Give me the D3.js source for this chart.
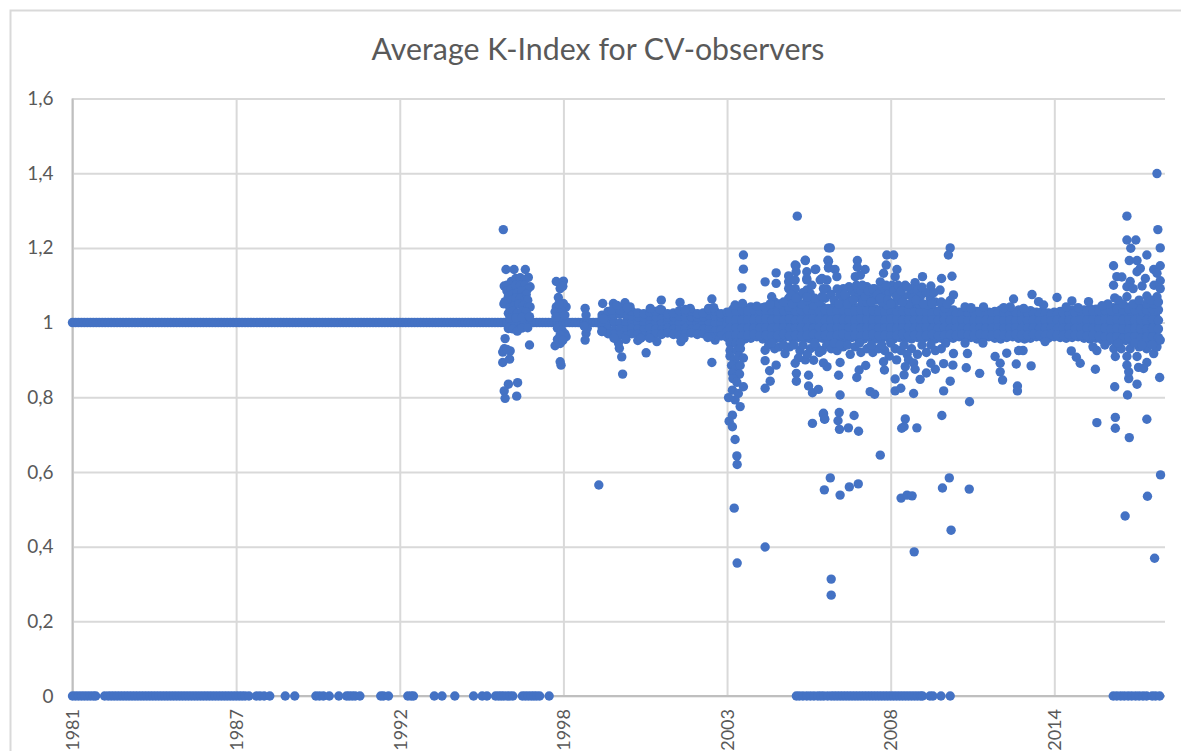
<!DOCTYPE html>
<html>
<head>
<meta charset="utf-8">
<script src="https://cdn.jsdelivr.net/npm/d3@7"></script>
<style>
html, body { margin: 0; padding: 0; background: #fff; overflow: hidden; }
text { font-family: Lato, "Open Sans", sans-serif; fill: #595959; }
</style>
</head>
<body>
<div id="chart"></div>
<script>
var chartTitle = "Average K-Index for CV-observers";
var yTicks = [0, 0.2, 0.4, 0.6, 0.8, 1, 1.2, 1.4, 1.6];
var yLabels = ["0", "0,2", "0,4", "0,6", "0,8", "1", "1,2", "1,4", "1,6"];
var xTicks = [1981, 1986.5, 1992, 1997.5, 2003, 2008.5, 2014];
var xLabels = ["1981", "1987", "1992", "1998", "2003", "2008", "2014"];

// observers with a k-index of exactly 0
var zeroYears = [1981, 1981.1, 1981.2, 1981.3, 1981.4, 1981.5, 1981.6, 1981.7, 1981.78, 1982.08, 1982.2, 1982.3, 1982.4, 1982.5, 1982.6, 1982.7, 1982.8, 1982.9, 1983, 1983.1, 1983.2, 1983.3, 1983.4, 1983.5, 1983.6, 1983.7, 1983.8, 1983.9, 1984, 1984.1, 1984.2, 1984.3, 1984.4, 1984.5, 1984.6, 1984.7, 1984.8, 1984.9, 1985, 1985.1, 1985.2, 1985.3, 1985.4, 1985.5, 1985.6, 1985.7, 1985.8, 1985.9, 1986, 1986.1, 1986.2, 1986.3, 1986.4, 1986.5, 1986.6, 1986.7, 1986.8, 1986.93, 1987.18, 1987.3, 1987.44, 1987.63, 1988.15, 1988.47, 1989.18, 1989.3, 1989.43, 1989.63, 1989.95, 1990.21, 1990.3, 1990.4, 1990.5, 1990.66, 1991.36, 1991.45, 1991.62, 1992.27, 1992.38, 1992.46, 1993.16, 1993.42, 1993.85, 1994.48, 1994.77, 1994.93, 1995.22, 1995.32, 1995.41, 1995.5, 1995.61, 1995.7, 1995.8, 1996.12, 1996.22, 1996.32, 1996.42, 1996.51, 1996.6, 1996.7, 1997.02,
  2005.33, 2005.43, 2005.55, 2005.68, 2005.8, 2005.92, 2006.05, 2006.15, 2006.25, 2006.38, 2006.5, 2006.6, 2006.7, 2006.8, 2006.9, 2007, 2007.1, 2007.2, 2007.3, 2007.4, 2007.5, 2007.6, 2007.7, 2007.8, 2007.9, 2008, 2008.1, 2008.2, 2008.3, 2008.4, 2008.5, 2008.6, 2008.7, 2008.8, 2008.9, 2009, 2009.1, 2009.2, 2009.3, 2009.4, 2009.5, 2009.57, 2009.82, 2009.92, 2010.19, 2010.5, 2015.98, 2016.1, 2016.23, 2016.35, 2016.48, 2016.6, 2016.73, 2016.85, 2016.98, 2017.1, 2017.29, 2017.4, 2017.54];

// observers with a k-index of exactly 1
var oneYears = [1981, 1981.1, 1981.2, 1981.3, 1981.4, 1981.5, 1981.6, 1981.7, 1981.8, 1981.9, 1982, 1982.1, 1982.2, 1982.3, 1982.4, 1982.5, 1982.6, 1982.7, 1982.8, 1982.9, 1983, 1983.1, 1983.2, 1983.3, 1983.4, 1983.5, 1983.6, 1983.7, 1983.8, 1983.9, 1984, 1984.1, 1984.2, 1984.3, 1984.4, 1984.5, 1984.6, 1984.7, 1984.8, 1984.9, 1985, 1985.1, 1985.2, 1985.3, 1985.4, 1985.5, 1985.6, 1985.7, 1985.8, 1985.9, 1986, 1986.1, 1986.2, 1986.3, 1986.4, 1986.5, 1986.6, 1986.7, 1986.8, 1986.9, 1987, 1987.1, 1987.2, 1987.3, 1987.4, 1987.5, 1987.6, 1987.7, 1987.8, 1987.9, 1988, 1988.1, 1988.2, 1988.3, 1988.4, 1988.5, 1988.6, 1988.7, 1988.8, 1988.9, 1989, 1989.1, 1989.2, 1989.3, 1989.4, 1989.5, 1989.6, 1989.7, 1989.8, 1989.9, 1990, 1990.1, 1990.2, 1990.3, 1990.4, 1990.5, 1990.6, 1990.7, 1990.8, 1990.9, 1991, 1991.1, 1991.2, 1991.3, 1991.4, 1991.5, 1991.6, 1991.7, 1991.8, 1991.9, 1992, 1992.1, 1992.2, 1992.3, 1992.4, 1992.5, 1992.6, 1992.7, 1992.8, 1992.9, 1993, 1993.1, 1993.2, 1993.3, 1993.4, 1993.5, 1993.6, 1993.7, 1993.8, 1993.9, 1994, 1994.1, 1994.2, 1994.3, 1994.4, 1994.5, 1994.6, 1994.7, 1994.8, 1994.9, 1995, 1995.1, 1995.2, 1995.3, 1995.4, 1995.5, 1995.6, 1995.7, 1995.8, 1995.9, 1996, 1996.1, 1996.2, 1996.3, 1996.4, 1996.5, 1996.6, 1996.7, 1996.8, 1996.9, 1997, 1997.1, 1997.2, 1997.3, 1997.4, 1997.5, 1997.6, 1997.7, 1997.8, 1997.9, 1998, 1998.1, 1998.2, 1998.3, 1998.4, 1998.5, 1998.6, 1998.7];

// the dense band around 1, read as rows across the years
var bandYears = [1998.8, 1999, 1999.2, 1999.4, 1999.6, 1999.8, 2000, 2000.2, 2000.4, 2000.6, 2000.8, 2001, 2001.2, 2001.4, 2001.6, 2001.8, 2002, 2002.2, 2002.4, 2002.6, 2002.8, 2003, 2003.2, 2003.4, 2003.6, 2003.8, 2004, 2004.2, 2004.4, 2004.6, 2004.8, 2005, 2005.2, 2005.4, 2005.6, 2005.8, 2006, 2006.2, 2006.4, 2006.6, 2006.8, 2007, 2007.2, 2007.4, 2007.6, 2007.8, 2008, 2008.2, 2008.4, 2008.6, 2008.8, 2009, 2009.2, 2009.4, 2009.6, 2009.8, 2010, 2010.2, 2010.4, 2010.6, 2010.8, 2011, 2011.2, 2011.4, 2011.6, 2011.8, 2012, 2012.2, 2012.4, 2012.6, 2012.8, 2013, 2013.2, 2013.4, 2013.6, 2013.8, 2014, 2014.2, 2014.4, 2014.6, 2014.8, 2015, 2015.2, 2015.4, 2015.6, 2015.8, 2016, 2016.2, 2016.4, 2016.6, 2016.8, 2017, 2017.2, 2017.4];
var bandMid = [1, 1, 1.002, 0.998, 1, 1.001, 0.998, 1, 0.999, 1.001, 1, 0.998, 1, 1.002, 0.999, 1, 0.998, 0.999, 1, 0.997, 0.998, 0.996, 0.995, 0.996, 0.994, 0.996, 0.995, 0.993, 0.996, 0.994, 0.995, 0.997, 0.993, 0.995, 0.994, 0.996, 0.993, 0.995, 0.997, 0.994, 0.996, 0.993, 0.995, 0.994, 0.997, 0.995, 0.993, 0.996, 0.994, 0.996, 0.995, 0.993, 0.996, 0.994, 0.997, 0.995, 0.994, 0.996, 0.993, 0.995, 0.996, 0.994, 0.995, 0.997, 0.994, 0.996, 0.995, 0.994, 0.996, 0.993, 0.995, 0.996, 0.994, 0.995, 0.997, 0.994, 0.996, 0.995, 0.994, 0.996, 0.995, 0.993, 0.996, 0.994, 0.992, 0.995, 0.993, 0.994, 0.992, 0.995, 0.993, 0.994, 0.992, 0.995];
var bandHi = [1.012, 1.018, 1.02, 1.022, 1.02, 1.018, 1.016, 1.014, 1.018, 1.016, 1.02, 1.014, 1.016, 1.018, 1.014, 1.016, 1.014, 1.016, 1.02, 1.018, 1.014, 1.016, 1.018, 1.016, 1.02, 1.018, 1.022, 1.02, 1.022, 1.018, 1.02, 1.022, 1.02, 1.018, 1.022, 1.02, 1.018, 1.022, 1.02, 1.022, 1.018, 1.02, 1.022, 1.02, 1.018, 1.022, 1.02, 1.018, 1.02, 1.022, 1.018, 1.02, 1.022, 1.018, 1.02, 1.016, 1.018, 1.02, 1.016, 1.018, 1.016, 1.014, 1.016, 1.018, 1.014, 1.016, 1.018, 1.014, 1.016, 1.014, 1.018, 1.016, 1.014, 1.016, 1.014, 1.016, 1.014, 1.016, 1.014, 1.018, 1.016, 1.018, 1.02, 1.018, 1.022, 1.02, 1.018, 1.022, 1.02, 1.018, 1.022, 1.02, 1.018, 1.02];
var bandLo = [0.988, 0.982, 0.98, 0.982, 0.98, 0.984, 0.982, 0.98, 0.984, 0.982, 0.98, 0.984, 0.982, 0.98, 0.984, 0.982, 0.984, 0.982, 0.98, 0.978, 0.98, 0.976, 0.976, 0.978, 0.974, 0.976, 0.978, 0.974, 0.976, 0.974, 0.978, 0.976, 0.974, 0.976, 0.978, 0.974, 0.976, 0.974, 0.978, 0.976, 0.974, 0.976, 0.978, 0.974, 0.976, 0.978, 0.974, 0.976, 0.978, 0.974, 0.976, 0.978, 0.974, 0.976, 0.978, 0.976, 0.974, 0.976, 0.978, 0.976, 0.978, 0.976, 0.978, 0.974, 0.976, 0.978, 0.976, 0.974, 0.976, 0.978, 0.976, 0.974, 0.976, 0.978, 0.976, 0.974, 0.976, 0.978, 0.976, 0.974, 0.976, 0.978, 0.974, 0.976, 0.972, 0.974, 0.976, 0.972, 0.974, 0.976, 0.972, 0.974, 0.976, 0.972];
var bandTop = [1.02, 1.03, 1.034, 1.036, 1.034, 1.03, 1.026, 1.024, 1.028, 1.03, 1.034, 1.024, 1.026, 1.032, 1.028, 1.03, 1.024, 1.026, 1.034, 1.03, 1.024, 1.028, 1.036, 1.034, 1.038, 1.042, 1.036, 1.04, 1.044, 1.038, 1.04, 1.044, 1.042, 1.036, 1.04, 1.044, 1.036, 1.042, 1.038, 1.044, 1.04, 1.036, 1.044, 1.04, 1.038, 1.042, 1.036, 1.034, 1.03, 1.036, 1.034, 1.038, 1.042, 1.036, 1.04, 1.032, 1.03, 1.036, 1.03, 1.034, 1.028, 1.03, 1.034, 1.03, 1.032, 1.028, 1.03, 1.034, 1.03, 1.028, 1.034, 1.03, 1.032, 1.028, 1.03, 1.026, 1.028, 1.03, 1.032, 1.034, 1.03, 1.034, 1.038, 1.036, 1.04, 1.044, 1.04, 1.046, 1.042, 1.044, 1.048, 1.04, 1.044, 1.046];
var bandBottom = [0.976, 0.97, 0.968, 0.966, 0.964, 0.97, 0.968, 0.964, 0.966, 0.97, 0.968, 0.972, 0.968, 0.966, 0.97, 0.972, 0.968, 0.97, 0.966, 0.962, 0.964, 0.96, 0.958, 0.96, 0.956, 0.958, 0.962, 0.956, 0.96, 0.956, 0.958, 0.962, 0.956, 0.96, 0.958, 0.956, 0.96, 0.958, 0.956, 0.96, 0.958, 0.956, 0.96, 0.958, 0.956, 0.96, 0.956, 0.958, 0.96, 0.956, 0.96, 0.958, 0.956, 0.96, 0.958, 0.96, 0.956, 0.958, 0.96, 0.958, 0.962, 0.958, 0.96, 0.956, 0.958, 0.962, 0.958, 0.956, 0.96, 0.962, 0.958, 0.956, 0.958, 0.962, 0.96, 0.958, 0.962, 0.96, 0.958, 0.96, 0.962, 0.958, 0.956, 0.958, 0.954, 0.95, 0.952, 0.948, 0.952, 0.95, 0.946, 0.952, 0.95, 0.954];

// second set of rows, between the columns above, from 2003 on
var gapYears = [2003.1, 2003.3, 2003.5, 2003.7, 2003.9, 2004.1, 2004.3, 2004.5, 2004.7, 2004.9, 2005.1, 2005.3, 2005.5, 2005.7, 2005.9, 2006.1, 2006.3, 2006.5, 2006.7, 2006.9, 2007.1, 2007.3, 2007.5, 2007.7, 2007.9, 2008.1, 2008.3, 2008.5, 2008.7, 2008.9, 2009.1, 2009.3, 2009.5, 2009.7, 2009.9, 2010.1, 2010.3, 2010.5, 2010.7, 2010.9, 2011.1, 2011.3, 2011.5, 2011.7, 2011.9, 2012.1, 2012.3, 2012.5, 2012.7, 2012.9, 2013.1, 2013.3, 2013.5, 2013.7, 2013.9, 2014.1, 2014.3, 2014.5, 2014.7, 2014.9, 2015.1, 2015.3, 2015.5, 2015.7, 2015.9, 2016.1, 2016.3, 2016.5, 2016.7, 2016.9, 2017.1, 2017.3, 2017.5];
var gapHi = [1.028, 1.03, 1.032, 1.03, 1.034, 1.032, 1.03, 1.034, 1.03, 1.032, 1.034, 1.03, 1.032, 1.034, 1.03, 1.032, 1.034, 1.03, 1.032, 1.034, 1.03, 1.032, 1.034, 1.03, 1.032, 1.03, 1.028, 1.03, 1.026, 1.03, 1.032, 1.028, 1.03, 1.028, 1.026, 1.028, 1.026, 1.028, 1.024, 1.026, 1.024, 1.028, 1.026, 1.024, 1.026, 1.024, 1.028, 1.024, 1.026, 1.024, 1.026, 1.024, 1.022, 1.024, 1.022, 1.024, 1.026, 1.024, 1.026, 1.028, 1.03, 1.03, 1.032, 1.034, 1.032, 1.036, 1.034, 1.036, 1.034, 1.036, 1.034, 1.036, 1.034];
var gapMid = [1.006, 1.008, 1.006, 1.008, 1.006, 1.008, 1.01, 1.006, 1.008, 1.006, 1.01, 1.006, 1.008, 1.006, 1.01, 1.008, 1.006, 1.008, 1.01, 1.006, 1.008, 1.006, 1.01, 1.008, 1.006, 1.008, 1.006, 1.01, 1.008, 1.006, 1.008, 1.006, 1.008, 1.006, 1.008, 1.006, 1.008, 1.006, 1.005, 1.006, 1.005, 1.006, 1.005, 1.007, 1.005, 1.006, 1.005, 1.007, 1.005, 1.006, 1.005, 1.007, 1.005, 1.006, 1.005, 1.007, 1.005, 1.006, 1.005, 1.007, 1.006, 1.008, 1.006, 1.008, 1.006, 1.008, 1.006, 1.008, 1.006, 1.008, 1.006, 1.008, 1.006];
var gapLow = [0.985, 0.986, 0.984, 0.986, 0.984, 0.985, 0.986, 0.984, 0.985, 0.986, 0.984, 0.985, 0.986, 0.984, 0.985, 0.986, 0.984, 0.985, 0.986, 0.984, 0.985, 0.986, 0.984, 0.985, 0.986, 0.984, 0.985, 0.986, 0.984, 0.985, 0.986, 0.984, 0.985, 0.986, 0.984, 0.985, 0.986, 0.984, 0.985, 0.986, 0.984, 0.985, 0.986, 0.984, 0.985, 0.986, 0.984, 0.985, 0.986, 0.984, 0.985, 0.986, 0.984, 0.985, 0.986, 0.984, 0.985, 0.986, 0.984, 0.985, 0.986, 0.984, 0.983, 0.985, 0.982, 0.984, 0.983, 0.982, 0.984, 0.983, 0.982, 0.984, 0.983];
var gapBottom = [0.965, 0.966, 0.964, 0.966, 0.968, 0.965, 0.966, 0.964, 0.966, 0.968, 0.965, 0.966, 0.964, 0.966, 0.968, 0.965, 0.966, 0.964, 0.966, 0.968, 0.965, 0.966, 0.964, 0.966, 0.968, 0.965, 0.966, 0.964, 0.966, 0.968, 0.965, 0.966, 0.964, 0.966, 0.968, 0.965, 0.966, 0.968, 0.966, 0.968, 0.967, 0.966, 0.968, 0.967, 0.966, 0.968, 0.967, 0.966, 0.968, 0.967, 0.966, 0.968, 0.967, 0.966, 0.968, 0.967, 0.966, 0.968, 0.967, 0.966, 0.965, 0.966, 0.964, 0.962, 0.96, 0.962, 0.958, 0.96, 0.962, 0.958, 0.96, 0.962, 0.96];

// scatter, era by era
var obs1995 = [[1995.48, 1.249], [1995.57, 1.142], [1995.84, 1.142], [1996.22, 1.142], [1995.51, 1.098], [1996.32, 1.121], [1996.38, 1.096], [1995.6, 1.1], [1995.75, 1.11], [1995.9, 1.118], [1996.05, 1.12], [1996.2, 1.115], [1995.6, 1.085], [1995.75, 1.09], [1995.9, 1.1], [1996.05, 1.1], [1996.2, 1.1], [1996.3, 1.09], [1995.65, 1.07], [1995.8, 1.075], [1995.95, 1.08], [1996.1, 1.085], [1996.25, 1.075], [1995.6, 1.055], [1995.75, 1.06], [1995.9, 1.065], [1996.05, 1.065], [1996.2, 1.06], [1996.3, 1.06], [1995.54, 1.056], [1995.5, 1.05], [1995.7, 1.04], [1995.85, 1.045], [1996, 1.05], [1996.15, 1.045], [1996.3, 1.04], [1996.38, 1.042], [1995.65, 1.025], [1995.8, 1.03], [1995.95, 1.025], [1996.1, 1.03], [1996.25, 1.028], [1995.7, 1.012], [1995.9, 1.012], [1996.1, 1.014], [1996.36, 1.016], [1995.65, 0.984], [1995.8, 0.983], [1995.95, 0.977], [1996.1, 0.985], [1996.3, 0.986], [1995.54, 0.957], [1995.51, 0.93], [1995.46, 0.921], [1995.71, 0.924], [1995.46, 0.893], [1995.69, 0.902], [1995.6, 0.928], [1995.65, 0.835], [1995.96, 0.839], [1995.51, 0.817], [1995.54, 0.797], [1995.93, 0.803], [1996.36, 0.94],
  [1997.26, 1.11], [1997.5, 1.111], [1997.39, 1.091], [1997.48, 1.097], [1997.33, 1.067], [1997.59, 1.042], [1997.26, 1.042], [1997.22, 1.029], [1997.5, 1.051], [1997.44, 1.03], [1997.35, 1.05], [1997.4, 1.015], [1997.25, 1.015], [1997.55, 1.02], [1997.3, 0.985], [1997.45, 0.98], [1997.55, 0.97], [1997.59, 0.962], [1997.22, 0.938], [1997.39, 0.944], [1997.39, 0.967], [1997.3, 0.955], [1997.48, 0.952], [1997.39, 0.895], [1997.42, 0.886],
  [1998.23, 1.038], [1998.26, 1.02], [1998.26, 0.971], [1998.23, 0.953], [1998.3, 0.985], [1998.2, 0.99], [1998.82, 1.051], [1998.85, 1.01], [1998.79, 0.976], [1998.69, 0.565]];

var obs1999 = [[1999.18, 1.051], [1999.25, 1.042], [1999.57, 1.053], [1999.74, 1.042], [1999.13, 1.033], [1999.4, 1.033], [1999.3, 1.046], [1999.65, 1.04], [1999.38, 0.931], [1999.46, 0.908], [1999.49, 0.862], [1999.35, 0.945], [1999.6, 0.955], [1999.2, 0.958], [2000.28, 0.919], [2000, 0.952], [2000.1, 0.958], [2000.42, 1.038], [2000.79, 1.06], [2000.75, 1.035], [2001.42, 1.054], [2001.76, 1.038], [2001.6, 1.035], [2000.64, 0.949], [2000.4, 0.958], [2001.45, 0.949], [2001.55, 0.958], [2002.49, 1.063], [2002.49, 0.893], [2002.38, 1.038], [2002.55, 1.04], [2002.6, 0.953], [2002.45, 0.962], [2002.35, 0.96]];

var obs2003 = [[2003.27, 1.047], [2003.52, 1.051], [2003.5, 1.093], [2003.55, 1.143], [2003.55, 1.181], [2003.1, 0.945], [2003.3, 0.945], [2003.45, 0.945], [2003.1, 0.925], [2003.33, 0.925], [2003.45, 0.93], [2003.1, 0.91], [2003.25, 0.9], [2003.4, 0.91], [2003.55, 0.905], [2003.15, 0.885], [2003.28, 0.875], [2003.44, 0.885], [2003.18, 0.865], [2003.3, 0.855], [2003.42, 0.862], [2003.2, 0.85], [2003.33, 0.84], [2003.55, 0.828], [2003.18, 0.819], [2003.38, 0.81], [2003.05, 0.799], [2003.27, 0.793], [2003.44, 0.775], [2003.18, 0.752], [2003.07, 0.736], [2003.18, 0.721], [2003.27, 0.687], [2003.33, 0.643], [2003.34, 0.62], [2003.24, 0.503], [2003.34, 0.356], [2004.28, 0.399]];

var obs2004 = [[2004, 1.044], [2004.5, 1.069], [2004.28, 1.109], [2004.65, 1.133], [2004.65, 1.105], [2005.07, 1.125], [2005.07, 1.109], [2005.07, 1.091], [2005.29, 1.154], [2005.32, 1.136], [2005.29, 1.114], [2005.29, 1.091], [2005.63, 1.166], [2005.68, 1.136], [2005.68, 1.114], [2005.68, 1.087], [2005.98, 1.143], [2006.13, 1.114], [2006.41, 1.2], [2006.41, 1.164], [2006.41, 1.146], [2006.36, 1.114], [2006.3, 1.065], [2005.79, 1.078], [2005.07, 1.065], [2005.29, 1.063], [2004.28, 1.042], [2005.07, 1.042], [2005.9, 1.047], [2004.6, 1.055], [2004.75, 1.05], [2004.45, 1.05], [2005.5, 1.05], [2005.7, 1.06], [2006.1, 1.055], [2004.9, 1.055], [2005.2, 1.05], [2005.4, 1.07], [2005.55, 1.08], [2005.85, 1.1], [2005.95, 1.065], [2006.2, 1.07], [2006.35, 1.09], [2006.5, 1.075], [2005.15, 1.075],
  [2004.28, 0.926], [2004.28, 0.898], [2004.43, 0.871], [2004.65, 0.886], [2004.45, 0.843], [2004.28, 0.824], [2004.95, 0.917], [2005.29, 0.891], [2005.63, 0.9], [2005.91, 0.899], [2005.33, 0.864], [2005.33, 0.843], [2005.74, 0.859], [2005.74, 0.83], [2005.87, 0.812], [2006.07, 0.821], [2006.24, 0.892], [2006.36, 0.882], [2006.24, 0.757], [2006.28, 0.742], [2005.87, 0.73], [2004.4, 0.94], [2004.6, 0.93], [2004.75, 0.935], [2005.1, 0.935], [2005.45, 0.925], [2005.55, 0.94], [2005.8, 0.93], [2006, 0.935], [2006.2, 0.925], [2004.5, 0.945], [2004.9, 0.94], [2005.25, 0.94], [2005.7, 0.915], [2006.1, 0.92], [2006.35, 0.94], [2005.95, 0.945], [2005.4, 0.905],
  [2005.36, 1.285], [2006.47, 1.2], [2006.39, 1.167], [2006.41, 1.148], [2005.63, 1.167], [2005.32, 1.152], [2005.96, 1.142], [2006.63, 1.142], [2006.69, 1.123], [2005.68, 1.118], [2006.19, 1.118], [2006.24, 1.091], [2005.32, 1.065], [2005.68, 1.068]];

var obs2006 = [[2007.38, 1.166], [2007.38, 1.148], [2007.64, 1.142], [2007.31, 1.123], [2007.48, 1.127], [2008.37, 1.181], [2008.6, 1.181], [2008.35, 1.154], [2008.71, 1.142], [2008.26, 1.132], [2008.65, 1.123], [2008.15, 1.109], [2009.57, 1.123], [2009.32, 1.107], [2010.5, 1.2], [2010.44, 1.181], [2010.56, 1.124], [2010.21, 1.118], [2010.16, 1.087], [2010.61, 1.074], [2009.85, 1.098], [2008.99, 1.1], [2007.1, 1.096], [2006.91, 1.091], [2007.7, 1.096], [2007.95, 1.091], [2007.03, 1.065], [2007.48, 1.065], [2007.95, 1.075], [2009.83, 1.065], [2009.72, 1.047], [2009.15, 1.074], [2008.93, 1.07], [2008.65, 1.054], [2008.37, 1.047], [2010.5, 1.059], [2010.33, 1.038],
  [2006.7, 1.09], [2006.8, 1.075], [2006.9, 1.06], [2007.2, 1.085], [2007.3, 1.075], [2007.4, 1.09], [2007.6, 1.08], [2007.8, 1.07], [2008, 1.06], [2008.1, 1.085], [2008.25, 1.09], [2008.3, 1.07], [2008.45, 1.08], [2008.55, 1.1], [2009.2, 1.09], [2009.4, 1.085], [2009.5, 1.07], [2009.7, 1.08], [2009.95, 1.08], [2010, 1.055], [2006.6, 1.06], [2007.15, 1.055], [2007.55, 1.055], [2007.7, 1.055], [2008.2, 1.055], [2009.1, 1.05], [2009.45, 1.05],
  [2006.75, 1.05], [2006.95, 1.075], [2007.05, 1.05], [2007.25, 1.06], [2007.35, 1.1], [2007.5, 1.085], [2007.55, 1.1], [2007.65, 1.07], [2007.75, 1.085], [2007.85, 1.055], [2007.9, 1.09], [2008.05, 1.075], [2008.15, 1.065], [2008.35, 1.1], [2008.4, 1.06], [2008.5, 1.05], [2008.6, 1.085], [2008.7, 1.07], [2008.75, 1.1], [2008.85, 1.085], [2008.9, 1.055], [2009.05, 1.095], [2009.25, 1.065], [2009.35, 1.06], [2009.55, 1.095], [2009.6, 1.05], [2009.9, 1.05], [2010.2, 1.055], [2010.4, 1.05],
  [2006.8, 0.893], [2006.75, 0.859], [2006.8, 0.806], [2007.14, 0.915], [2007.44, 0.873], [2007.36, 0.853], [2007.66, 0.885], [2007.81, 0.815], [2007.96, 0.808], [2006.24, 0.754], [2006.28, 0.741], [2006.77, 0.759], [2006.73, 0.737], [2006.78, 0.714], [2007.08, 0.718], [2007.27, 0.751], [2007.42, 0.709], [2008.15, 0.645],
  [2006.5, 0.93], [2006.7, 0.925], [2006.9, 0.935], [2007.5, 0.92], [2007.7, 0.93], [2007.9, 0.92], [2008.1, 0.93], [2008.3, 0.925], [2008.65, 0.93], [2008.85, 0.925], [2009.2, 0.93], [2009.4, 0.915], [2009.7, 0.92], [2010, 0.925], [2010.2, 0.93], [2006.6, 0.945], [2006.8, 0.94], [2007.05, 0.94], [2007.3, 0.935], [2007.45, 0.945], [2007.85, 0.94], [2008.2, 0.94], [2008.5, 0.945], [2008.95, 0.94], [2009.05, 0.915], [2009.55, 0.94], [2009.85, 0.94], [2010.35, 0.945], [2008.45, 0.91], [2009.1, 0.9],
  [2008.26, 0.895], [2008.29, 0.873], [2008.65, 0.849], [2008.65, 0.817], [2008.84, 0.824], [2008.7, 0.9], [2008.99, 0.882], [2008.95, 0.86], [2009.27, 0.892], [2009.32, 0.875], [2009.49, 0.848], [2009.7, 0.865], [2010, 0.875], [2009.85, 0.891], [2009.27, 0.81], [2010.28, 0.817], [2010.5, 0.843], [2008.99, 0.742], [2008.95, 0.721], [2008.87, 0.717], [2009.38, 0.718], [2010.22, 0.751], [2010.28, 0.89], [2010.59, 0.886], [2010.61, 0.917],
  [2006.47, 0.584], [2006.27, 0.552], [2006.8, 0.538], [2007.11, 0.56], [2007.41, 0.568], [2006.5, 0.313], [2006.5, 0.27], [2008.85, 0.53], [2009.05, 0.538], [2009.22, 0.536], [2009.29, 0.386], [2010.24, 0.557], [2010.47, 0.584], [2010.53, 0.444], [2011.14, 0.554]];

var obs2011 = [[2012.63, 1.063], [2013.25, 1.075], [2014.09, 1.067], [2014.59, 1.058], [2015.15, 1.056], [2013.47, 1.056], [2013.64, 1.047], [2011.62, 1.042], [2011, 1.042], [2012.52, 1.042], [2012.97, 1.038], [2012.3, 1.04], [2011.2, 1.04], [2014.8, 1.04], [2014.4, 1.042],
  [2011.04, 0.879], [2011.08, 0.917], [2011.49, 0.864], [2011.15, 0.788], [2012.01, 0.909], [2012.18, 0.891], [2012.18, 0.868], [2012.26, 0.846], [2012.72, 0.889], [2013.22, 0.884], [2012.76, 0.83], [2012.76, 0.817], [2012.4, 0.918], [2012.95, 0.925], [2012.8, 0.925], [2013.69, 0.949], [2014.57, 0.924], [2014.74, 0.907], [2014.87, 0.891], [2015.38, 0.875], [2015.43, 0.925], [2015.3, 0.935], [2011.6, 0.945], [2011, 0.945]];

var obs2015 = [[2016.44, 1.285], [2016.44, 1.221], [2016.74, 1.221], [2016.57, 1.199], [2017.45, 1.399], [2017.48, 1.249], [2017.56, 1.2], [2017.11, 1.181], [2016.52, 1.166], [2016.78, 1.166], [2015.99, 1.152], [2016.89, 1.145], [2016.78, 1.136], [2017.34, 1.142], [2017.56, 1.152], [2017.45, 1.132], [2016.1, 1.123], [2016.27, 1.122], [2017.06, 1.118], [2017.56, 1.112], [2015.99, 1.1], [2016.55, 1.11], [2016.44, 1.096], [2016.65, 1.091], [2016.95, 1.098], [2017.35, 1.1], [2017.56, 1.091], [2016.03, 1.066], [2016.44, 1.069], [2017.11, 1.071], [2017.45, 1.069], [2016.3, 1.05], [2016.65, 1.05], [2017.11, 1.05], [2015.8, 1.05], [2015.6, 1.045], [2017.35, 1.05], [2016.15, 1.06], [2016.85, 1.06], [2017.25, 1.06], [2017.5, 1.055],
  [2016.03, 0.828], [2016.46, 0.806], [2016.78, 0.835], [2017.54, 0.853], [2015.43, 0.732], [2016.05, 0.746], [2016.05, 0.717], [2016.52, 0.692], [2017.11, 0.741], [2016.5, 0.85], [2016.5, 0.868], [2016.44, 0.886], [2016.83, 0.88], [2017.11, 0.893], [2017, 0.877], [2016.05, 0.909], [2016.44, 0.909], [2016.78, 0.909], [2017.34, 0.917], [2017.45, 0.935], [2017.56, 0.953], [2016, 0.93], [2016.25, 0.93], [2016.55, 0.93], [2016.85, 0.935], [2017.1, 0.93], [2015.7, 0.94], [2016.15, 0.945], [2016.7, 0.945], [2016.95, 0.94], [2017.3, 0.94], [2016.38, 0.482], [2017.13, 0.535], [2017.37, 0.369], [2017.57, 0.592]];

var margin = {top: 98.5, left: 72.5, right: 16, bottom: 55},
    width = 1181,
    height = 751;

var svg = d3.select("#chart")
    .append("svg")
        .attr("width", width)
        .attr("height", height);

// chart frame runs past the page on the right and at the bottom
svg.append("path")
    .attr("d", "M10.5,751V10.5H1181")
    .attr("fill", "none")
    .attr("stroke", "#d9d9d9")
    .attr("stroke-width", 2);

svg.append("text")
    .attr("x", 598)
    .attr("y", 60)
    .attr("text-anchor", "middle")
    .style("font-size", "30.3px")
    .text(chartTitle);

var x = d3.scaleLinear()
    .domain([1981, 2017.72])
    .range([margin.left, width - margin.right]);

var y = d3.scaleLinear()
    .domain([0, 1.6])
    .range([height - margin.bottom, margin.top]);

var yAxis = svg.append("g")
    .attr("transform", "translate(" + margin.left + ",0)")
    .call(d3.axisLeft(y)
        .tickValues(yTicks)
        .tickSize(-(width - margin.right - margin.left))
        .tickPadding(19)
        .tickFormat(function(d, i) { return yLabels[i]; }));
yAxis.select(".domain").remove();
yAxis.selectAll("line").attr("stroke", "#d9d9d9").attr("stroke-width", 2);
yAxis.selectAll("text").style("font-size", "19px");

var xAxis = svg.append("g")
    .attr("transform", "translate(0," + (height - margin.bottom) + ")")
    .call(d3.axisBottom(x)
        .tickValues(xTicks)
        .tickSize(-(height - margin.bottom - margin.top))
        .tickFormat(function(d, i) { return xLabels[i]; }));
xAxis.select(".domain").remove();
xAxis.selectAll("line").attr("stroke", "#d9d9d9").attr("stroke-width", 2);
xAxis.selectAll("text")
    .attr("transform", "rotate(-90)")
    .attr("x", -13)
    .attr("y", 0)
    .attr("dy", "0.35em")
    .style("text-anchor", "end")
    .style("font-size", "18px");

// baseline and left edge are darker than the grid
svg.append("line")
    .attr("x1", x(1981)).attr("x2", width - margin.right)
    .attr("y1", y(0)).attr("y2", y(0))
    .attr("stroke", "#bfbfbf").attr("stroke-width", 2);
svg.append("line")
    .attr("x1", x(1981)).attr("x2", x(1981))
    .attr("y1", y(0)).attr("y2", y(1.6))
    .attr("stroke", "#bfbfbf").attr("stroke-width", 2);

var points = [];
zeroYears.forEach(function(d) { points.push([d, 0]); });
oneYears.forEach(function(d) { points.push([d, 1]); });
[bandMid, bandHi, bandLo, bandTop, bandBottom].forEach(function(row) {
    row.forEach(function(v, i) { points.push([bandYears[i], v]); });
});
[gapHi, gapMid, gapLow, gapBottom].forEach(function(row) {
    row.forEach(function(v, i) { points.push([gapYears[i], v]); });
});
points = points.concat(obs1995, obs1999, obs2003, obs2004, obs2006, obs2011, obs2015);

svg.append("g")
    .selectAll("circle")
    .data(points)
    .enter()
    .append("circle")
    .attr("cx", function(d) { return x(d[0]); })
    .attr("cy", function(d) { return y(d[1]); })
    .attr("r", 4.7)
    .attr("fill", "#4472c4");
</script>
</body>
</html>
